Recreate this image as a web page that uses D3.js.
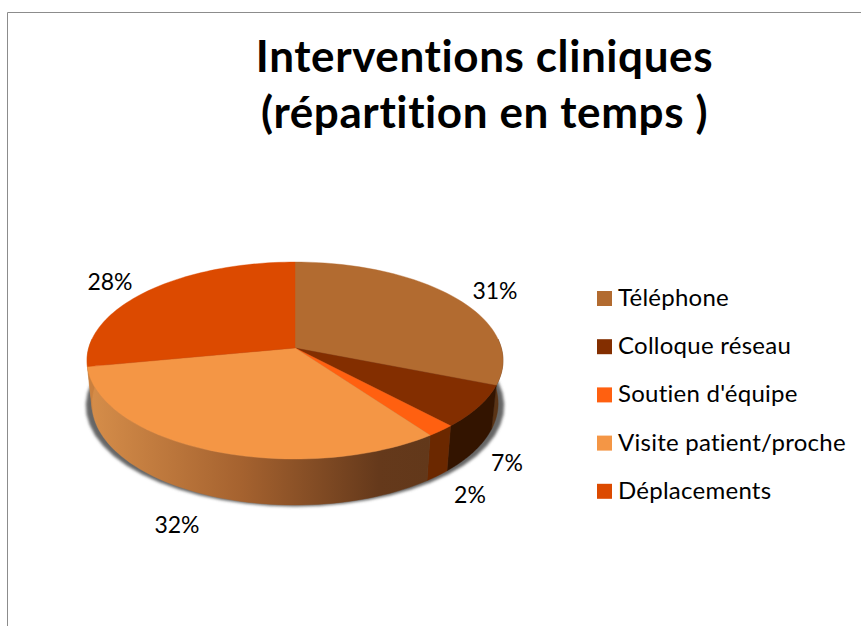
<!DOCTYPE html>
<html>
<head>
<meta charset="utf-8">
<script src="https://cdn.jsdelivr.net/npm/d3@7"></script>
<style>
  html, body { margin: 0; padding: 0; background: #fff; }
  svg { display: block; font-family: Lato, "Open Sans", sans-serif; font-variant-ligatures: none; }
</style>
</head>
<body>
<svg id="board" width="861" height="626"></svg>
<script>
let categories = ['Téléphone', 'Colloque réseau', "Soutien d'équipe", 'Visite patient/proche', 'Déplacements']
let values = [31, 7, 2, 32, 28]
let topColors = ['#b26b30', '#832e00', '#ff6010', '#f49645', '#dc4a00']
let sideColors = ['#5a3416', '#331400', '#6b2800', 'url(#visiteSide)', '#c9803f']

let board = d3.select('#board')
let defs = board.append('defs')

let grad = defs.append('linearGradient')
    .attr('id', 'visiteSide')
    .attr('gradientUnits', 'userSpaceOnUse')
    .attr('x1', 88).attr('x2', 430).attr('y1', 0).attr('y2', 0)
grad.append('stop').attr('offset', '0%').attr('stop-color', '#d68e4a')
grad.append('stop').attr('offset', '45%').attr('stop-color', '#a5622f')
grad.append('stop').attr('offset', '85%').attr('stop-color', '#65391b')
grad.append('stop').attr('offset', '100%').attr('stop-color', '#62381a')

defs.append('filter').attr('id', 'blur')
    .attr('x', '-10%').attr('y', '-10%').attr('width', '120%').attr('height', '120%')
    .append('feGaussianBlur').attr('stdDeviation', 1.8)

// frame, only top and left show in the picture
board.append('path')
    .attr('d', 'M7.5,626V12.5H861')
    .attr('fill', 'none')
    .attr('stroke', '#8c8c8c')
    .attr('stroke-width', 1)

// title
let titleLines = ['Interventions cliniques', '(répartition en temps )']
board.selectAll('.title')
    .data(titleLines)
    .enter()
    .append('text')
    .attr('class', 'title')
    .attr('x', 484.5)
    .attr('y', (d, i) => 72 + i * 56)
    .attr('text-anchor', 'middle')
    .attr('font-size', 44)
    .attr('font-weight', 700)
    .attr('letter-spacing', 0.6)
    .attr('fill', '#000')
    .text(d => d)

// pie seen in perspective: circle coordinates go through a projective map
let pie = d3.pie().value(d => d).sort(null)
let slices = pie(values)

let cx = 295, cy = 348, persp = 0.127
let topDisc = { bx: 206.3, by: 96.9, dy: 0 }
let baseDisc = { bx: 201.5, by: 100, dy: 42.5 }
let shadowDisc = { bx: 207.5, by: 99, dy: 45 }

let project = function(angle, disc) {
    let u = Math.sin(angle)
    let v = -Math.cos(angle)
    let w = 1 - persp * v
    return [cx + disc.bx * u / w, cy + disc.dy + disc.by * v / w]
}

let rim = function(a0, a1, disc) {
    return d3.range(0, 61).map(i => project(a0 + (a1 - a0) * i / 60, disc))
}

let line = d3.line()

// shadow under the base
board.append('path')
    .attr('d', line(rim(0, Math.PI * 2, shadowDisc)) + 'Z')
    .attr('fill', '#666666')
    .attr('filter', 'url(#blur)')

// side wall, only the part that faces the viewer
let sideStart = Math.PI * 0.47, sideEnd = Math.PI * 1.53
board.selectAll('.side')
    .data(slices)
    .enter()
    .append('path')
    .attr('class', 'side')
    .attr('fill', (d, i) => sideColors[i])
    .attr('stroke', (d, i) => sideColors[i])
    .attr('stroke-width', 0.4)
    .attr('d', d => {
        let a0 = Math.max(d.startAngle, sideStart)
        let a1 = Math.min(d.endAngle, sideEnd)
        if (a1 <= a0) return null
        return line(rim(a0, a1, topDisc).concat(rim(a0, a1, baseDisc).reverse())) + 'Z'
    })

// top face
board.selectAll('.slice')
    .data(slices)
    .enter()
    .append('path')
    .attr('class', 'slice')
    .attr('fill', (d, i) => topColors[i])
    .attr('stroke', (d, i) => topColors[i])
    .attr('stroke-width', 0.4)
    .attr('d', d => line([[cx, cy]].concat(rim(d.startAngle, d.endAngle, topDisc))) + 'Z')

// percent labels
let labelSpots = [[495, 299], [507, 471], [470, 503], [177, 533], [110, 290]]
board.selectAll('.pct')
    .data(values)
    .enter()
    .append('text')
    .attr('class', 'pct')
    .attr('x', (d, i) => labelSpots[i][0])
    .attr('y', (d, i) => labelSpots[i][1])
    .attr('text-anchor', 'middle')
    .attr('font-size', 23)
    .attr('fill', '#000')
    .text(d => d + '%')

// legend
let legend = board.selectAll('.legend')
    .data(categories)
    .enter()
    .append('g')
    .attr('class', 'legend')
    .attr('transform', (d, i) => 'translate(597,' + (291 + i * 48.2) + ')')

legend.append('rect')
    .attr('width', 15)
    .attr('height', 15)
    .attr('fill', (d, i) => topColors[i])

legend.append('text')
    .attr('x', 21)
    .attr('y', 15)
    .attr('font-size', 24)
    .attr('letter-spacing', 0.25)
    .attr('fill', '#000')
    .text(d => d)
</script>
</body>
</html>
